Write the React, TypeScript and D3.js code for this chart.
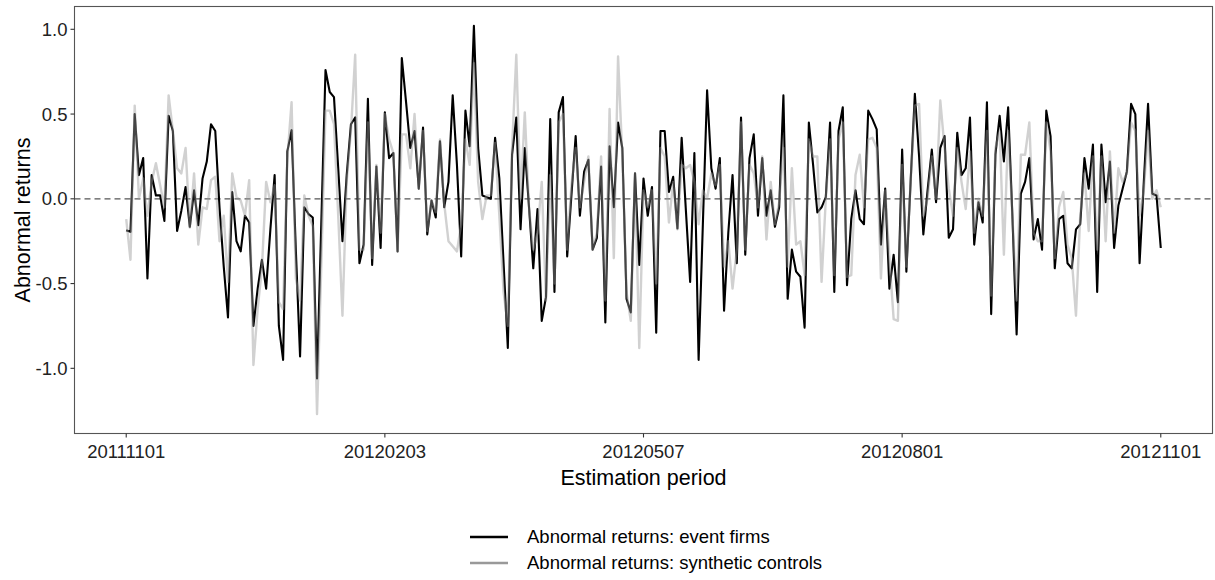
import React from "react";
import * as d3 from "d3";

const eventFirms: number[] = [
  -0.185, -0.195, 0.5, 0.14, 0.24, -0.47, 0.14, 0.02, 0.02, -0.13,
  0.49, 0.4, -0.19, -0.07, 0.07, -0.165, 0.05, -0.155, 0.12, 0.22,
  0.44, 0.4, -0.05, -0.4, -0.7, 0.04, -0.25, -0.31, -0.1, -0.14,
  -0.75, -0.53, -0.36, -0.53, -0.18, 0.14, -0.75, -0.95, 0.28, 0.405,
  -0.3, -0.93, -0.05, -0.09, -0.11, -1.06, -0.15, 0.76, 0.63, 0.6,
  0.18, -0.25, 0.14, 0.44, 0.48, -0.38, -0.27, 0.59, -0.39, 0.19,
  -0.29, 0.51, 0.24, 0.27, -0.31, 0.83, 0.57, 0.3, 0.4, 0.06,
  0.42, -0.21, -0.01, -0.11, 0.34, -0.05, 0.1, 0.61, 0.2, -0.34,
  0.52, 0.31, 1.02, 0.3, 0.02, 0.01, 0.0, 0.36, 0.12, -0.38,
  -0.88, 0.26, 0.48, -0.18, 0.3, -0.05, -0.41, -0.06, -0.72, -0.58,
  0.47, -0.55, 0.51, 0.6, -0.34, 0.02, 0.37, -0.1, 0.16, 0.23,
  -0.3, -0.23, 0.19, -0.73, 0.31, -0.05, 0.45, 0.3, -0.59, -0.67,
  0.15, -0.39, 0.12, -0.1, 0.07, -0.79, 0.4, 0.4, 0.04, 0.13,
  -0.175, 0.36, -0.07, -0.49, 0.27, -0.95, -0.15, 0.64, 0.18, 0.06,
  0.24, -0.66, -0.2, 0.14, -0.38, 0.48, -0.33, 0.24, 0.38, -0.1,
  0.24, -0.1, 0.05, -0.165, -0.05, 0.61, -0.59, -0.3, -0.43, -0.46,
  -0.76, 0.45, 0.2, -0.08, -0.05, 0.01, 0.45, -0.55, 0.4, 0.54,
  -0.51, -0.12, 0.05, -0.12, -0.15, 0.52, 0.47, 0.41, -0.27, 0.06,
  -0.53, -0.33, -0.61, 0.29, -0.43, 0.1, 0.62, 0.25, -0.21, 0.05,
  0.29, -0.02, 0.3, 0.37, -0.23, -0.18, 0.39, 0.14, 0.18, 0.48,
  -0.27, -0.02, -0.14, 0.57, -0.68, 0.26, 0.49, 0.22, 0.54, -0.1,
  -0.8, 0.03, 0.1, 0.24, -0.24, -0.12, -0.3, 0.52, 0.37, -0.41,
  -0.12, -0.1, -0.38, -0.41, -0.18, -0.15, 0.24, 0.06, 0.32, -0.55,
  0.32, -0.02, 0.22, -0.29, -0.04, 0.06, 0.16, 0.56, 0.5, -0.38,
  0.1, 0.56, 0.03, 0.02, -0.29,
];

const syntheticControls: number[] = [
  -0.12, -0.36, 0.55, 0.0, 0.12, -0.1, 0.1, 0.21, 0.08, -0.05,
  0.61, 0.4, 0.18, 0.15, 0.3, -0.17, 0.15, -0.27, -0.05, -0.06,
  0.11, 0.13, -0.25, -0.1, -0.49, 0.15, 0.01, -0.01, -0.1, 0.11,
  -0.98, -0.65, -0.41, 0.1, -0.02, 0.08, -0.61, -0.65, 0.24, 0.57,
  -0.47, -0.6, 0.02, -0.1, -0.16, -1.27, -0.4, 0.52, 0.52, 0.44,
  -0.1, -0.69, 0.1, 0.4, 0.85, -0.3, -0.3, 0.45, -0.35, 0.2,
  -0.2, 0.5, 0.35, 0.27, -0.31, 0.38, 0.38, 0.18, 0.5, 0.06,
  0.4, -0.19, -0.01, -0.08, 0.35, -0.03, -0.25, -0.28, -0.31, -0.15,
  0.35, 0.2, 0.8, 0.1, -0.12, 0.02, 0.02, 0.33, -0.1, -0.55,
  -0.75, 0.3, 0.85, 0.0, 0.51, -0.05, -0.3, -0.2, 0.1, -0.6,
  0.14, -0.5, 0.45, 0.5, -0.3, 0.08, 0.3, -0.05, 0.1, 0.25,
  -0.3, -0.2, 0.25, -0.6, 0.53, -0.35, 0.84, 0.25, -0.55, -0.72,
  0.15, -0.88, 0.05, -0.05, 0.05, -0.5, 0.3, 0.25, -0.14, 0.1,
  -0.18, 0.2, 0.18, 0.2, 0.1, -0.15, 0.05, 0.0, 0.15, 0.08,
  0.2, -0.4, -0.25, -0.53, -0.3, 0.45, -0.3, 0.2, 0.15, -0.05,
  0.25, -0.24, 0.1, -0.15, -0.02, 0.3, -0.4, 0.18, -0.27, -0.25,
  -0.45, 0.35, 0.25, 0.25, -0.49, 0.0, 0.35, -0.45, 0.35, 0.45,
  -0.46, -0.45, 0.14, 0.26, -0.05, 0.35, 0.36, 0.3, -0.47, 0.05,
  -0.35, -0.71, -0.72, 0.2, -0.4, 0.1, 0.55, 0.56, -0.1, 0.0,
  0.25, 0.0, 0.58, 0.3, 0.06, -0.1, 0.3, 0.1, -0.06, 0.28,
  -0.2, 0.0, -0.1, 0.4, -0.57, 0.3, 0.4, -0.33, 0.4, -0.1,
  -0.6, 0.26, 0.26, 0.45, -0.2, -0.25, -0.25, 0.45, 0.28, -0.35,
  -0.05, 0.04, -0.27, -0.35, -0.69, -0.1, 0.15, -0.19, 0.25, -0.3,
  0.25, -0.25, 0.28, -0.2, 0.18, 0.1, 0.15, 0.45, 0.4, -0.1,
  0.05, 0.4, 0.0, 0.05, -0.05,
];

const xTickIndex: number[] = [0, 61, 122, 183, 244];
const xTickLabels: string[] = ["20111101", "20120203", "20120507", "20120801", "20121101"];
const yTicks: number[] = [-1, -0.5, 0, 0.5, 1];
const legendLabels: string[] = [
  "Abnormal returns: event firms",
  "Abnormal returns: synthetic controls",
];

const FONT = "'Liberation Sans', Arial, Helvetica, sans-serif";

export default function App() {
  const W = 1215;
  const H = 580;
  const left = 74.5, right = 1212.5, top = 6.5, bottom = 433.5;
  const n = eventFirms.length;
  const x = d3.scaleLinear().domain([-(n - 1) * 0.05, (n - 1) * 1.05]).range([left, right]);
  const y = d3.scaleLinear().domain([-1.3845, 1.1345]).range([bottom, top]);
  const line = d3
    .line<number>()
    .x((_, i) => x(i))
    .y((d) => y(d));

  return (
    <div style={{ position: "fixed", left: 0, top: 0, width: W, height: H, background: "#fff" }}>
      <svg width={W} height={H} style={{ display: "block" }} fontFamily={FONT}>
        <rect x={0} y={0} width={W} height={H} fill="#fff" />
        <line x1={left} x2={right} y1={y(0)} y2={y(0)} stroke="#555" strokeWidth={1.3} strokeDasharray="6,4" />
        <path d={line(eventFirms) || ""} fill="none" stroke="#000" strokeWidth={2.1} strokeLinejoin="round" />
        <path
          d={line(syntheticControls) || ""}
          fill="none"
          stroke="#999"
          strokeOpacity={0.45}
          strokeWidth={2.4}
          strokeLinejoin="round"
        />
        <rect x={left} y={top} width={right - left} height={bottom - top} fill="none" stroke="#555" strokeWidth={1.1} />
        {yTicks.map((t) => (
          <g key={"y" + t}>
            <line x1={left - 4} x2={left} y1={y(t)} y2={y(t)} stroke="#333" strokeWidth={1.1} />
            <text x={left - 7} y={y(t)} dy="0.35em" textAnchor="end" fontSize={18.5} fill="#222">
              {t.toFixed(1)}
            </text>
          </g>
        ))}
        {xTickIndex.map((t, i) => (
          <g key={"x" + t}>
            <line x1={x(t)} x2={x(t)} y1={bottom} y2={bottom + 4} stroke="#333" strokeWidth={1.1} />
            <text x={x(t)} y={bottom + 18} dy="0.35em" textAnchor="middle" fontSize={18.5} fill="#222">
              {xTickLabels[i]}
            </text>
          </g>
        ))}
        <text x={(left + right) / 2} y={477} dy="0.35em" textAnchor="middle" fontSize={21.5} fill="#000">
          Estimation period
        </text>
        <text
          transform={`translate(22,${(top + bottom) / 2}) rotate(-90)`}
          dy="0.35em"
          textAnchor="middle"
          fontSize={21.5}
          fill="#000"
        >
          Abnormal returns
        </text>
        {legendLabels.map((lab, i) => (
          <g key={lab} transform={`translate(0,${537 + i * 26})`}>
            <line x1={470} x2={508} y1={0} y2={0} stroke={i === 0 ? "#000" : "#999"} strokeWidth={2.4} />
            <text x={527} y={0} dy="0.35em" fontSize={18.5} fill="#000">
              {lab}
            </text>
          </g>
        ))}
      </svg>
    </div>
  );
}
